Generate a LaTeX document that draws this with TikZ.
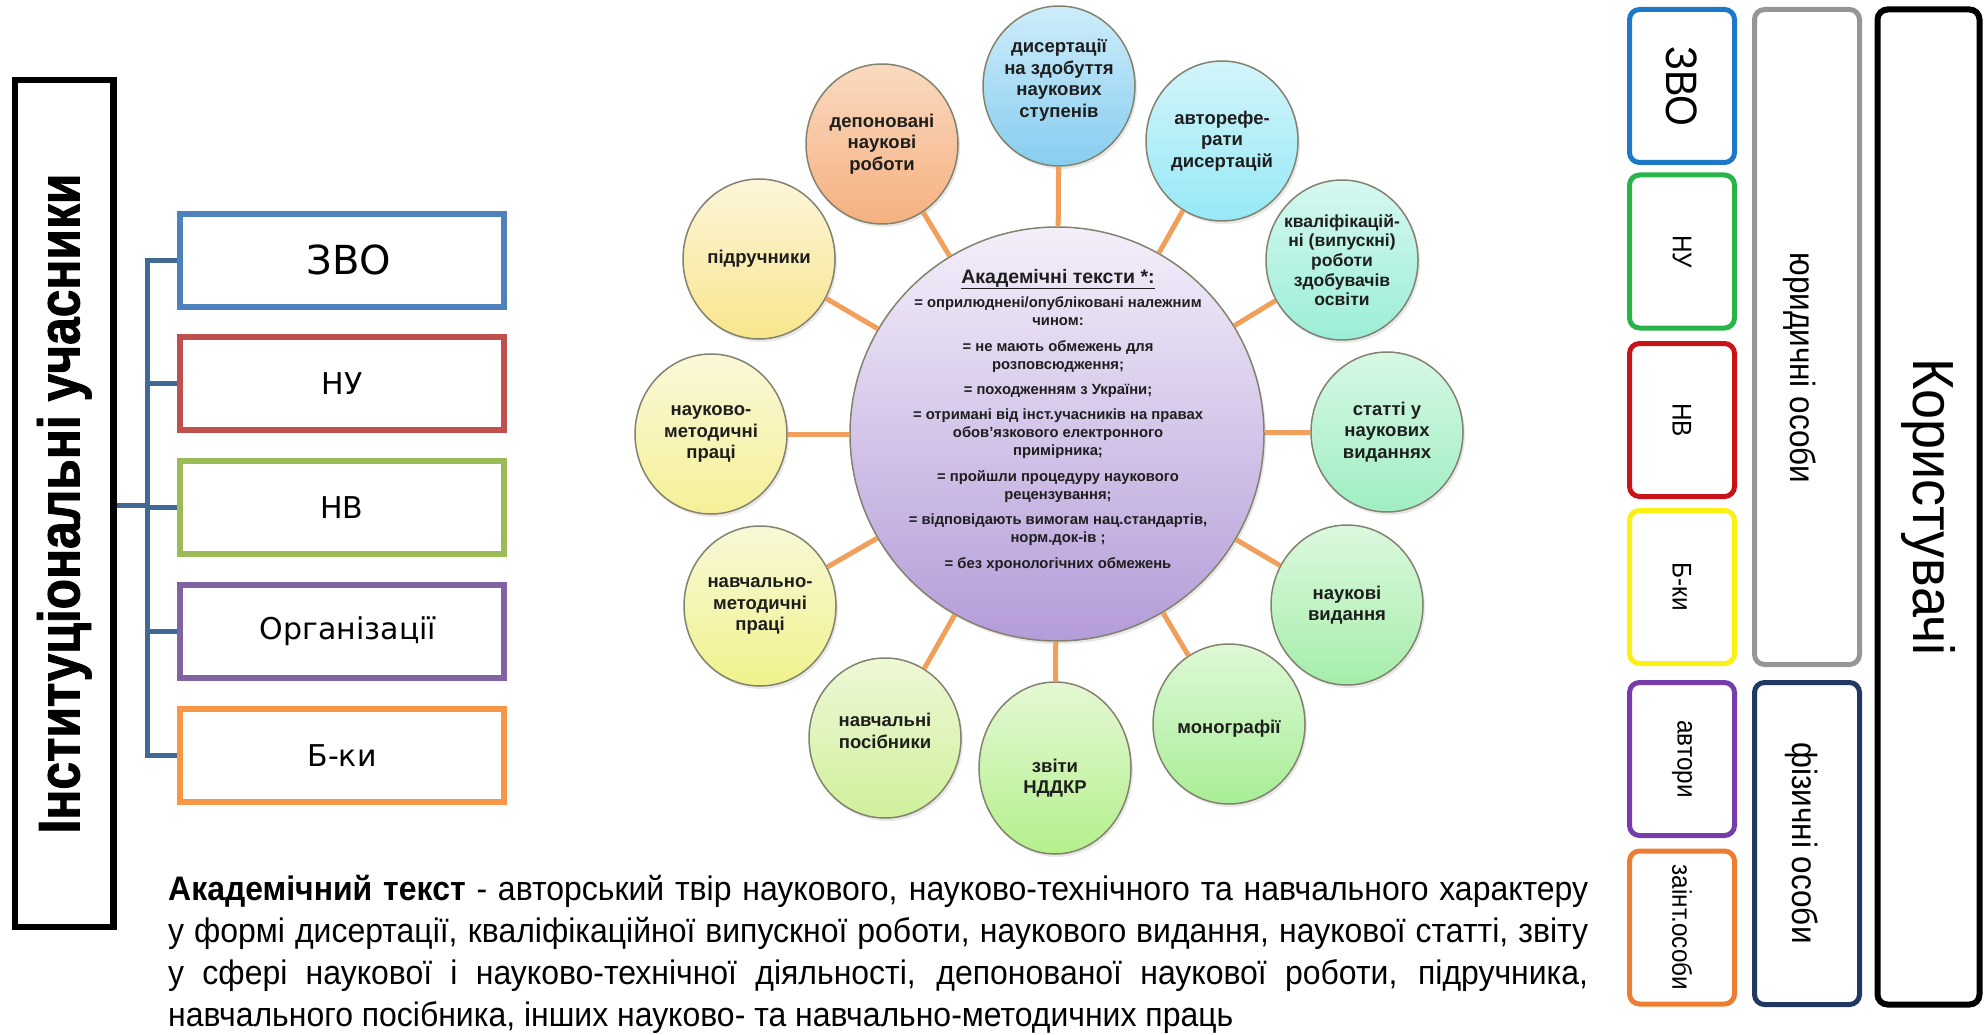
\documentclass[tikz,border=0pt]{standalone}
\usepackage{fontspec}
\setmainfont{Liberation Sans}
\newfontfamily\dejavu{DejaVu Sans}
\newfontfamily\narrowf[FakeStretch=0.9]{Liberation Sans}
\newfontfamily\widerf[FakeStretch=0.93]{Liberation Sans}
\newfontfamily\titlef[FakeStretch=0.85, BoldFeatures={FakeBold=1.5}]{Liberation Sans}
\newfontfamily\bodyf[FakeStretch=0.94]{Liberation Sans}
\usetikzlibrary{shapes.geometric,shadows}
\definecolor{boxblue}{RGB}{79,129,189}
\definecolor{boxred}{RGB}{192,80,77}
\definecolor{boxgreen}{RGB}{155,187,89}
\definecolor{boxpurple}{RGB}{128,100,162}
\definecolor{boxorange}{RGB}{247,150,70}
\definecolor{treeblue}{RGB}{65,105,150}
\definecolor{ublue}{RGB}{30,120,200}
\definecolor{ugreen}{RGB}{40,180,75}
\definecolor{ured}{RGB}{200,20,25}
\definecolor{uyellow}{RGB}{250,240,20}
\definecolor{upurple}{RGB}{120,60,170}
\definecolor{uorange}{RGB}{237,125,49}
\definecolor{ugray}{RGB}{150,150,150}
\definecolor{unavy}{RGB}{31,56,100}
\definecolor{satline}{RGB}{130,130,110}
\definecolor{spokecol}{RGB}{240,160,90}
\definecolor{textdark}{RGB}{30,30,30}
\begin{document}
\begin{tikzpicture}[x=1pt,y=-1pt,
  lbox/.style={draw, line width=6pt, minimum width=324pt, minimum height=93pt, inner sep=0pt, font=\dejavu\fontsize{30}{36}\selectfont},
  tree/.style={draw=treeblue, line width=5pt},
  rbox/.style={draw, line width=5pt, rounded corners=10pt, inner sep=0pt},
  rtext/.style={rotate=-90, inner sep=0pt},
  sat/.style={ellipse, draw=satline, line width=1.5pt, minimum width=152pt, minimum height=160pt, inner sep=0pt,
     drop shadow={opacity=0.18, shadow xshift=2pt, shadow yshift=-3pt}},
  sattext/.style={align=center, inner sep=0pt, text=textdark, font=\bfseries\fontsize{18.5}{21.5}\selectfont},
  spoke/.style={draw=spokecol, line width=5pt},
  bodyline/.style={anchor=base west, inner sep=0pt, font=\bodyf\fontsize{34}{42}\selectfont}
]
\useasboundingbox (0,0) rectangle (1988,1035);

% ---------- left: institutional participants ----------
\node[rotate=90, draw, line width=6.5pt, minimum width=847pt, minimum height=98.5pt, inner sep=0pt,
      font=\titlef\bfseries\fontsize{58.5}{64}\selectfont] (inst) at (64.25,503.5) {Інституціональні учасники};

\node[lbox, draw=boxblue]   (zvo) at (342,260)   {\fontsize{40}{48}\selectfont\hspace*{14pt}ЗВО};
\node[lbox, draw=boxred]    (nu)  at (342,383.5) {НУ};
\node[lbox, draw=boxgreen]  (nv)  at (342,507.5) {НВ};
\node[lbox, draw=boxpurple] (org) at (342,631)   {\hspace*{12pt}Організації};
\node[lbox, draw=boxorange] (bki) at (342,755.5) {Б-ки};

\coordinate (tx) at (147,505);
\draw[tree] (inst.south |- tx) -- (tx);
\draw[tree] (zvo.west) -- (zvo.west -| tx) -- (bki.west -| tx) -- (bki.west);
\draw[tree] (nu.west -| tx) -- (nu.west);
\draw[tree] (nv.west -| tx) -- (nv.west);
\draw[tree] (org.west -| tx) -- (org.west);

% ---------- centre: academic texts ----------
\node[circle, draw=satline, line width=1.5pt, minimum size=414pt, inner sep=0pt,
      top color={rgb,255:red,244;green,239;blue,250}, bottom color={rgb,255:red,180;green,156;blue,216},
      drop shadow={opacity=0.18, shadow xshift=2pt, shadow yshift=-3pt}] (c) at (1057,434) {};

\node[sat, top color={rgb,255:red,205;green,236;blue,250}, bottom color={rgb,255:red,135;green,205;blue,240}] (s0) at (1059,86) {};
\node[sat, top color={rgb,255:red,210;green,245;blue,250}, bottom color={rgb,255:red,150;green,232;blue,246}] (s1) at (1222,141) {};
\node[sat, top color={rgb,255:red,214;green,248;blue,240}, bottom color={rgb,255:red,155;green,238;blue,215}] (s2) at (1342,260) {};
\node[sat, top color={rgb,255:red,214;green,248;blue,228}, bottom color={rgb,255:red,160;green,238;blue,195}] (s3) at (1387,432) {};
\node[sat, top color={rgb,255:red,220;green,248;blue,222}, bottom color={rgb,255:red,165;green,238;blue,170}] (s4) at (1347,605) {};
\node[sat, top color={rgb,255:red,222;green,248;blue,215}, bottom color={rgb,255:red,168;green,238;blue,150}] (s5) at (1229,724) {};
\node[sat, top color={rgb,255:red,228;green,248;blue,212}, bottom color={rgb,255:red,180;green,240;blue,140}, minimum height=172pt] (s6) at (1055,768) {};
\node[sat, top color={rgb,255:red,238;green,248;blue,215}, bottom color={rgb,255:red,208;green,240;blue,155}] (s7) at (885,738) {};
\node[sat, top color={rgb,255:red,248;green,248;blue,215}, bottom color={rgb,255:red,240;green,242;blue,140}] (s8) at (760,606) {};
\node[sat, top color={rgb,255:red,250;green,248;blue,218}, bottom color={rgb,255:red,245;green,240;blue,150}] (s9) at (711,434) {};
\node[sat, top color={rgb,255:red,252;green,245;blue,218}, bottom color={rgb,255:red,248;green,230;blue,140}] (s10) at (759,259) {};
\node[sat, top color={rgb,255:red,250;green,218;blue,192}, bottom color={rgb,255:red,245;green,176;blue,128}] (s11) at (882,144) {};

\foreach \s in {s0,s1,s2,s3,s4,s5,s6,s7,s8,s9,s10,s11} \draw[spoke] (c) -- (\s);

\node[sattext] (t0) at (1059,80) {дисертації\\на здобуття\\наукових\\ступенів};
\node[sattext] (t1) at (s1) {авторефе-\\рати\\дисертацій};
\node[sattext, font=\bfseries\fontsize{17.5}{19.7}\selectfont] (t2) at (s2) {кваліфікацій-\\ні (випускні)\\роботи\\здобувачів\\освіти};
\node[sattext] (t3) at (s3) {статті у\\наукових\\виданнях};
\node[sattext] (t4) at (s4) {наукові\\видання};
\node[sattext] (t5) at (1229,729) {монографії};
\node[sattext] (t6) at (1055,778) {звіти\\НДДКР};
\node[sattext] (t7) at (885,731) {навчальні\\посібники};
\node[sattext] (t8) at (s8) {навчально-\\методичні\\праці};
\node[sattext] (t9) at (s9) {науково-\\методичні\\праці};
\node[sattext] (t10) at (s10) {підручники};
\node[sattext] (t11) at (s11) {депоновані\\наукові\\роботи};

\node[align=center, anchor=north, inner sep=0pt, text=textdark, font=\bfseries\fontsize{14.8}{18}\selectfont] (ctext) at (1058,269)
 {{\fontsize{19.5}{19}\selectfont\underline{Академічні тексти *:}}\\[6pt]
  = оприлюднені/опубліковані належним\\ чином:\\[8pt]
  = не мають обмежень для\\ розповсюдження;\\[7pt]
  = походженням з України;\\[7pt]
  = отримані від інст.учасників на правах\\ обов’язкового електронного\\ примірника;\\[8pt]
  = пройшли процедуру наукового\\ рецензування;\\[7pt]
  = відповідають вимогам нац.стандартів,\\ норм.док-ів ;\\[8pt]
  = без хронологічних обмежень};

% ---------- bottom definition ----------
\node[bodyline] (p1) at (168,900)
 {\makebox[1420pt][s]{\textbf{Академічний текст} - авторський твір наукового, науково-технічного та навчального характеру}};
\node[bodyline] (p2) at (168,942)
 {\makebox[1420pt][s]{у формі дисертації, кваліфікаційної випускної роботи, наукового видання, наукової статті, звіту}};
\node[bodyline] (p3) at (168,984)
 {\makebox[1420pt][s]{у сфері наукової і науково-технічної діяльності, депонованої наукової роботи, підручника,}};
\node[bodyline] (p4) at (168,1026)
 {навчального посібника, інших науково- та навчально-методичних праць};

% ---------- right: users ----------
\node[rbox, draw=ublue,   minimum width=105pt, minimum height=153pt] (u1) at (1682,86) {};
\node[rbox, draw=ugreen,  minimum width=105pt, minimum height=153pt] (u2) at (1682,251.5) {};
\node[rbox, draw=ured,    minimum width=105pt, minimum height=153pt] (u3) at (1682,420) {};
\node[rbox, draw=uyellow, minimum width=105pt, minimum height=153pt] (u4) at (1682,587) {};
\node[rbox, draw=upurple, minimum width=105pt, minimum height=153pt] (u5) at (1682,759) {};
\node[rbox, draw=uorange, minimum width=105pt, minimum height=153pt] (u6) at (1682,927.5) {};
\node[rbox, draw=ugray,   minimum width=105pt, minimum height=655pt] (jur) at (1807,337) {};
\node[rbox, draw=unavy,   minimum width=105pt, minimum height=322pt] (fiz) at (1807,843.5) {};
\node[rbox, draw=black, line width=6pt, minimum width=102pt, minimum height=995pt] (kor) at (1928.5,507) {};

\node[rtext, font=\narrowf\fontsize{44}{50}\selectfont] (u1t) at (u1) {ЗВО};
\node[rtext, font=\narrowf\fontsize{27}{32}\selectfont] (u2t) at (u2) {НУ};
\node[rtext, font=\narrowf\fontsize{27}{32}\selectfont] (u3t) at (u3) {НВ};
\node[rtext, font=\narrowf\fontsize{27}{32}\selectfont] (u4t) at (u4) {Б-ки};
\node[rtext, font=\narrowf\fontsize{27}{32}\selectfont] (u5t) at (u5) {автори};
\node[rtext, font=\narrowf\fontsize{27}{32}\selectfont] (u6t) at (u6) {заінт.особи};
\node[rtext, font=\narrowf\fontsize{35}{40}\selectfont] (jurt) at (1800,368) {юридичні особи};
\node[rtext, font=\narrowf\fontsize{35}{40}\selectfont] (fizt) at (1802,843) {фізичні особи};
\node[rtext, font=\widerf\fontsize{58}{64}\selectfont] (kort) at (kor) {Користувачі};
\end{tikzpicture}
\end{document}
